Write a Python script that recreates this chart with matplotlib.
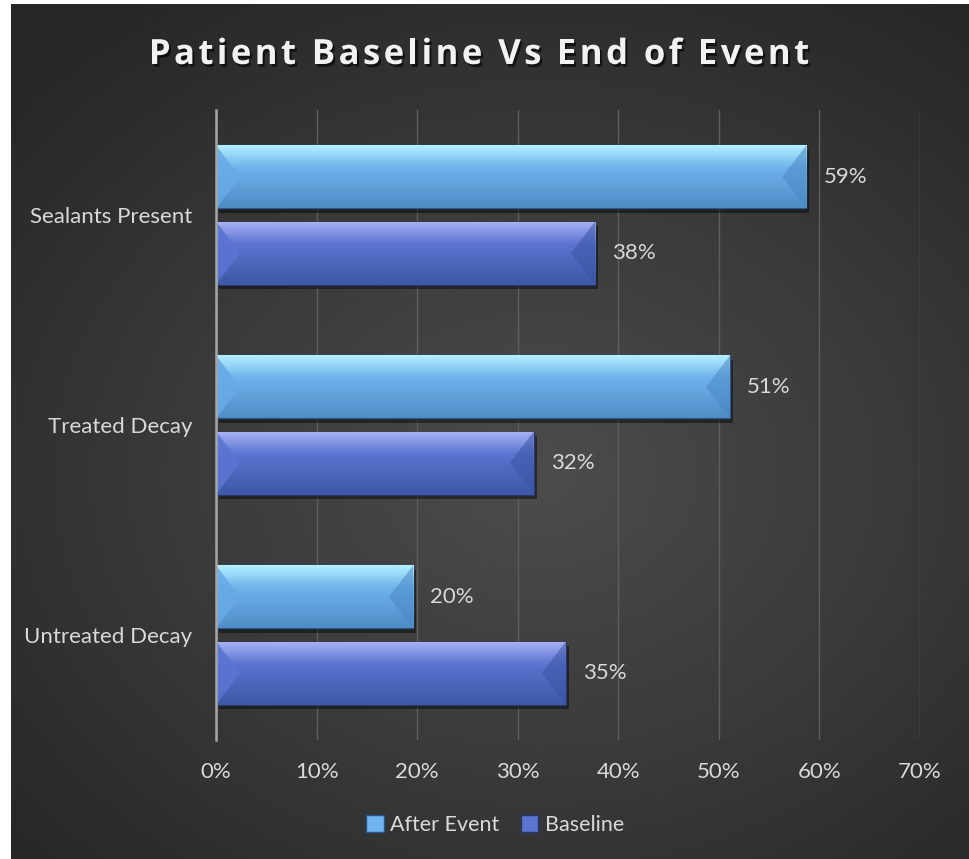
import numpy as np
import matplotlib
matplotlib.use('Agg')
import matplotlib.pyplot as plt
from matplotlib.colors import LinearSegmentedColormap
from matplotlib.patches import Polygon, Patch
import matplotlib.patheffects as pe

plt.rcParams['font.family'] = ['Lato', 'DejaVu Sans']

# data
categories = ['Sealants Present', 'Treated Decay', 'Untreated Decay']
after_event = [0.587, 0.511, 0.196]
baseline = [0.377, 0.316, 0.348]
series_names = ['After Event', 'Baseline']
x_ticks = [0, 0.1, 0.2, 0.3, 0.4, 0.5, 0.6, 0.7]
title = 'Patient Baseline Vs End of Event'

# colours: top highlight, middle, bottom, left face, right face
after_cols = ['#b4f0ff', '#6fb4ec', '#4f8cc6', '#68aae4', '#4a88c4']
base_cols = ['#a6b0f4', '#5a74d0', '#3e58a6', '#5b74d2', '#3a54a4']

W, H = 969, 859
fig = plt.figure(figsize=(W / 100, H / 100), dpi=100, facecolor='white')

# dark radial background
bg = fig.add_axes([11 / W, 0, 1 - 11 / W, 1 - 4 / H])
yy, xx = np.mgrid[0:1:400j, 0:1:400j]
r = np.sqrt(((xx - 0.55) * 1.0) ** 2 + ((yy - 0.55) * 1.1) ** 2)
r = np.clip(r / 0.75, 0, 1)
bg_cmap = LinearSegmentedColormap.from_list('bg', ['#4c4c4c', '#3a3a3a', '#262626'])
bg.imshow(r, cmap=bg_cmap, aspect='auto', extent=(0, 1, 0, 1), vmin=0, vmax=1)
bg.set_xlim(0, 1)
bg.set_ylim(0, 1)
bg.axis('off')

ax = fig.add_axes([216 / W, 1 - 740 / H, 704 / W, 630 / H])
ax.set_facecolor('none')

y = np.arange(len(categories))
h = 0.30
off = 0.181


def shade_bars(bars, cols):
    cmap = LinearSegmentedColormap.from_list('g', [(0, cols[0]), (0.35, cols[1]), (1, cols[2])])
    grad = np.linspace(0, 1, 100).reshape(-1, 1)
    for rect in bars.patches:
        x0, y0 = rect.get_x(), rect.get_y()
        w, hh = rect.get_width(), rect.get_height()
        im = ax.imshow(grad, cmap=cmap, aspect='auto', origin='upper',
                       extent=(x0, x0 + w, y0 + hh, y0), zorder=3)
        im.set_clip_path(rect)
        b = 0.024
        yc = y0 + hh / 2
        ax.add_patch(Polygon([(x0, y0), (x0 + b, yc), (x0, y0 + hh)],
                             closed=True, fc=cols[3], ec='none', alpha=0.9, zorder=4))
        ax.add_patch(Polygon([(x0 + w, y0), (x0 + w - b, yc), (x0 + w, y0 + hh)],
                             closed=True, fc=cols[4], ec='none', alpha=0.55, zorder=4))


b1 = ax.barh(y - off, after_event, height=h, color=after_cols[1], edgecolor='#2c5585',
             linewidth=1, zorder=2)
b2 = ax.barh(y + off, baseline, height=h, color=base_cols[1], edgecolor='#25376e',
             linewidth=1, zorder=2)
for p in list(b1.patches) + list(b2.patches):
    p.set_path_effects([pe.SimplePatchShadow(offset=(2, -3), shadow_rgbFace='black', alpha=0.45),
                        pe.Normal()])
shade_bars(b1, after_cols)
shade_bars(b2, base_cols)

for vals, dy in [(after_event, -off), (baseline, off)]:
    for i, v in enumerate(vals):
        ax.text(v + 0.017, i + dy, '{:.0%}'.format(v), va='center', ha='left',
                fontsize=16, color='#d9d9d9', zorder=5)

ax.set_xlim(0, 0.7)
ax.set_ylim(2.5, -0.5)
ax.set_xticks(x_ticks)
ax.set_xticklabels(['{:.0%}'.format(t) for t in x_ticks])
ax.set_yticks(y)
ax.set_yticklabels(categories)
ax.tick_params(length=0, labelsize=16, labelcolor='#d9d9d9')
ax.tick_params(axis='x', pad=16)
ax.tick_params(axis='y', pad=17)
ax.xaxis.grid(True, color='#5e5e5e', linewidth=1)
ax.set_axisbelow(True)
for s in ['top', 'right', 'bottom']:
    ax.spines[s].set_visible(False)
ax.spines['left'].set_color('#a6a6a6')
ax.spines['left'].set_linewidth(1.8)
ax.spines['left'].set_zorder(6)

# title with extra letter spacing, placed char by char
tkw = dict(fontsize=25, fontweight='bold', family=['Open Sans', 'DejaVu Sans'])
renderer = fig.canvas.get_renderer()


def text_w(s):
    t = fig.text(0, 0, s + '|', **tkw)
    bar = fig.text(0, 0, '|', **tkw)
    wpx = t.get_window_extent(renderer).width - bar.get_window_extent(renderer).width
    t.remove()
    bar.remove()
    return wpx


spacing = 3.4
total = text_w(title) + spacing * (len(title) - 1)
x_start = 479 - total / 2
for i, ch in enumerate(title):
    if ch == ' ':
        continue
    xpx = x_start + text_w(title[:i]) + spacing * i
    fig.text(xpx / W, 0.936, ch, ha='left', va='center', color='#f2f2f2', **tkw,
             path_effects=[pe.withSimplePatchShadow(offset=(1.5, -2), shadow_rgbFace='black',
                                                    alpha=0.6)])

handles = [Patch(facecolor=after_cols[1], edgecolor='#2c5585'),
           Patch(facecolor=base_cols[1], edgecolor='#25376e')]
fig.legend(handles, series_names, loc='center', bbox_to_anchor=(0.511, 0.0396), ncol=2,
           frameon=False, fontsize=15.5, labelcolor='#d9d9d9', handlelength=0.8,
           handleheight=0.8, handletextpad=0.3, columnspacing=1.0)

fig.savefig('out.png', dpi=100, facecolor='white')
